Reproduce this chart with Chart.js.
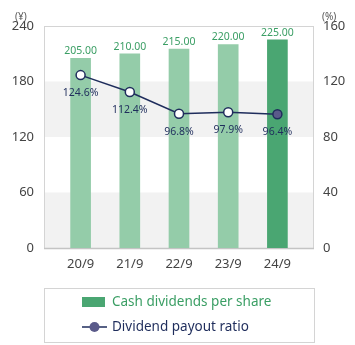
<!DOCTYPE html>
<html>
<head>
<meta charset="utf-8">
<script src="https://cdn.jsdelivr.net/npm/chart.js@4.4.0/dist/chart.umd.min.js"></script>
<style>
  html, body { margin: 0; padding: 0; background: #fff; }
  #wrap { width: 355px; height: 345px; position: relative; }
</style>
</head>
<body>
<div id="wrap"><canvas id="grafico" width="355" height="345"></canvas></div>
<script>
// Datos
const categorias = ['20/9', '21/9', '22/9', '23/9', '24/9'];
const dividendos = [205, 210, 215, 220, 225];
const ratioPago = [124.6, 112.4, 96.8, 97.9, 96.4];
const ticksIzq = [0, 60, 120, 180, 240];
const ticksDer = [0, 40, 80, 120, 160];
const nombreBarras = 'Cash dividends per share';
const nombreLinea = 'Dividend payout ratio';

// Colores
const verdeClaro = '#94cca9';
const verdeOscuro = '#4aa672';
const verdeTexto = '#3a9e64';
const azul = '#1f2d5c';
const violeta = '#5a5a8a';
const fuente = '"Noto Sans", sans-serif';

// Marco del area del grafico (fondo con bandas)
const fondoPlugin = {
  id: 'fondo',
  beforeDatasetsDraw(chart) {
    const ctx = chart.ctx;
    const a = chart.chartArea;
    const y = chart.scales.y;
    const izq = a.left - 12, der = a.right + 12;
    ctx.save();
    ctx.fillStyle = '#f2f2f2';
    [[0, 60], [120, 180]].forEach(b => {
      const y1 = y.getPixelForValue(b[1]);
      const y2 = y.getPixelForValue(b[0]);
      ctx.fillRect(izq, y1, der - izq, y2 - y1);
    });
    ctx.strokeStyle = '#d4d4d4';
    ctx.lineWidth = 1;
    ctx.strokeRect(izq + 0.5, a.top + 0.5, der - izq - 1, a.bottom - a.top);
    ctx.strokeStyle = '#c4c4c4';
    ctx.lineWidth = 1.5;
    ctx.beginPath();
    ctx.moveTo(izq, a.bottom + 0.5);
    ctx.lineTo(der, a.bottom + 0.5);
    ctx.stroke();
    // titulos de ejes
    ctx.fillStyle = '#555';
    ctx.font = '10px ' + fuente;
    ctx.textAlign = 'left';
    ctx.textBaseline = 'middle';
    ctx.fillText('(¥)', 15, 17);
    ctx.fillText('(%)', 322, 17);
    ctx.restore();
  },
  afterDatasetsDraw(chart) {
    const ctx = chart.ctx;
    ctx.save();
    ctx.textAlign = 'center';
    ctx.textBaseline = 'middle';
    const barras = chart.getDatasetMeta(0).data;
    ctx.font = '10.5px ' + fuente;
    ctx.fillStyle = verdeTexto;
    barras.forEach((el, i) => {
      ctx.fillText(dividendos[i].toFixed(2), el.x, el.y - 7);
    });
    const puntos = chart.getDatasetMeta(1).data;
    ctx.fillStyle = azul;
    puntos.forEach((el, i) => {
      ctx.fillText(ratioPago[i].toFixed(1) + '%', el.x, el.y + 18);
    });
    ctx.restore();
  },
  afterDraw(chart) {
    // Leyenda en un recuadro
    const ctx = chart.ctx;
    ctx.save();
    ctx.strokeStyle = '#d4d4d4';
    ctx.lineWidth = 1;
    ctx.strokeRect(44.5, 288.5, 270, 54);
    ctx.fillStyle = verdeOscuro;
    ctx.fillRect(82, 297, 23, 10);
    ctx.font = '13.5px ' + fuente;
    ctx.textBaseline = 'middle';
    ctx.textAlign = 'left';
    ctx.fillStyle = verdeTexto;
    ctx.fillText(nombreBarras, 112, 302);
    ctx.strokeStyle = azul;
    ctx.lineWidth = 1.5;
    ctx.beginPath();
    ctx.moveTo(82, 327);
    ctx.lineTo(107, 327);
    ctx.stroke();
    ctx.beginPath();
    ctx.arc(94.5, 327, 5, 0, Math.PI * 2);
    ctx.fillStyle = violeta;
    ctx.fill();
    ctx.fillStyle = azul;
    ctx.fillText(nombreLinea, 112, 327);
    ctx.restore();
  }
};

const coloresBarras = dividendos.map((v, i) => i === dividendos.length - 1 ? verdeOscuro : verdeClaro);
const rellenoPuntos = ratioPago.map((v, i) => i === ratioPago.length - 1 ? violeta : '#ffffff');

const ctx = document.getElementById('grafico').getContext('2d');
const grafico = new Chart(ctx, {
  type: 'bar',
  data: {
    labels: categorias,
    datasets: [
      {
        type: 'bar',
        label: nombreBarras,
        data: dividendos,
        backgroundColor: coloresBarras,
        barThickness: 20,
        yAxisID: 'y',
        order: 1,
      },
      {
        type: 'line',
        label: nombreLinea,
        data: ratioPago,
        borderColor: azul,
        borderWidth: 1.5,
        pointRadius: 4.5,
        pointBackgroundColor: rellenoPuntos,
        pointBorderColor: azul,
        pointBorderWidth: 1.5,
        tension: 0,
        yAxisID: 'y1',
        order: 0,
      },
    ],
  },
  plugins: [fondoPlugin],
  options: {
    responsive: false,
    animation: false,
    layout: { padding: { top: 26, left: 0, right: 0, bottom: 0 } },
    plugins: {
      legend: { display: false },
      tooltip: { enabled: false },
    },
    scales: {
      x: {
        grid: { display: false },
        border: { display: false },
        ticks: { color: '#444', font: { family: fuente, size: 13 }, padding: 0 },
        afterFit(s) { s.height = 97; },
      },
      y: {
        position: 'left',
        min: 0,
        max: 240,
        afterBuildTicks(s) { s.ticks = ticksIzq.map(v => ({ value: v })); },
        grid: { display: false },
        border: { display: false },
        ticks: { color: '#444', font: { family: fuente, size: 13 }, padding: 14 },
        afterFit(s) { s.width = 56; },
      },
      y1: {
        position: 'right',
        min: 0,
        max: 160,
        afterBuildTicks(s) { s.ticks = ticksDer.map(v => ({ value: v })); },
        grid: { display: false },
        border: { display: false },
        ticks: { color: '#444', font: { family: fuente, size: 13 }, padding: 13 },
        afterFit(s) { s.width = 53; },
      },
    },
  },
});
</script>
</body>
</html>
